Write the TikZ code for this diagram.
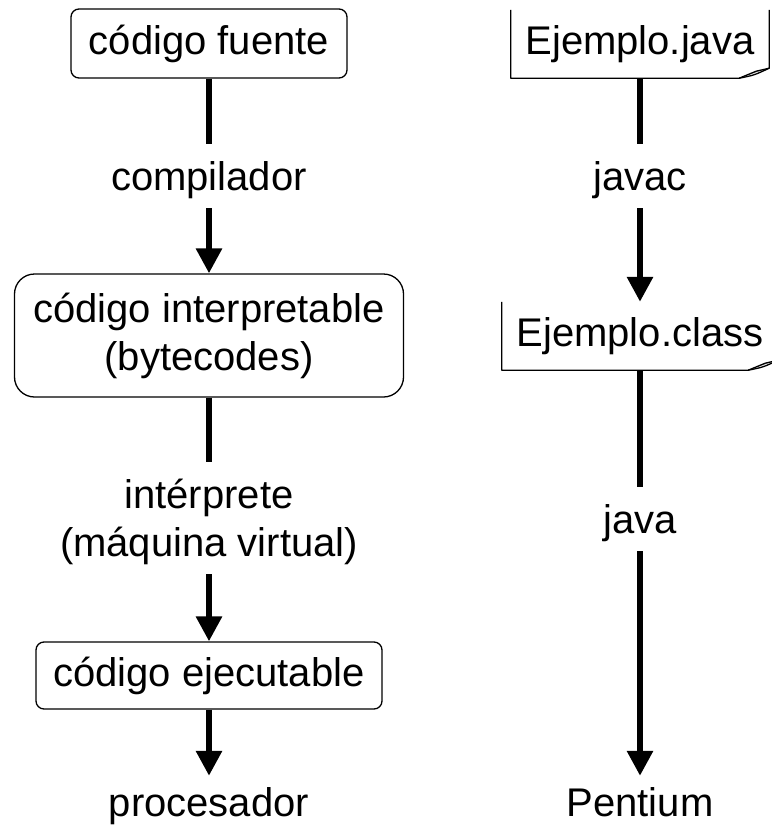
\documentclass[tikz,border=0pt]{standalone}
\usepackage{fontspec}
\setmainfont{Liberation Sans}
\usetikzlibrary{arrows.meta,calc}

\newcommand{\hoja}[1]{%
	\filldraw[borde,fill=gray!45] ($(#1.south east)+(-30,0)$) -- ($(#1.south east)+(-13,-7)$) -- ($(#1.south east)+(0,-10)$);
	\draw[borde] (#1.north west) -- (#1.south west) -- ($(#1.south east)+(-30,0)$)
		.. controls ($(#1.south east)+(-15,-3)$) .. ($(#1.south east)+(0,-10)$) -- (#1.north east);
}

\begin{document}
\begin{tikzpicture}[x=1pt,y=-1pt,font=\fontsize{40}{48}\selectfont,
	caja/.style={draw,line width=1.3pt,inner sep=0pt},
	hojita/.style={inner sep=0pt,minimum height=68pt},
	borde/.style={line width=1.3pt,line join=round},
	etiqueta/.style={inner sep=0pt,anchor=north,text height=46pt,text depth=18pt},
	final/.style={inner sep=0pt,anchor=base,text height=40pt},
	linea/.style={line width=6pt},
	flecha/.style={line width=6pt,-{Triangle[width=25pt,length=25pt]}}]
	\useasboundingbox (0,0) rectangle (771,827);
	\node[caja,rounded corners=8pt,minimum width=276pt,minimum height=69pt] (fuente) at (209,43.5) {código fuente};
	\node[etiqueta] (compilador) at (209,144) {compilador};
	\node[caja,rounded corners=20pt,minimum width=389pt,minimum height=123pt,align=center] (interpretable) at (209,335.5) {código interpretable\\(bytecodes)};
	\node[inner sep=0pt,anchor=north,align=center] (interprete) at (209,462) {\rule{0pt}{46pt}intérprete\\(máquina virtual)\rule[-18pt]{0pt}{18pt}};
	\node[caja,rounded corners=8pt,minimum width=346pt,minimum height=67pt] (ejecutable) at (209,675.5) {código ejecutable};
	\node[final] (procesador) at (209,816) {procesador};
	\draw[linea] (fuente) -- (compilador);
	\draw[flecha] (compilador) -- (interpretable);
	\draw[linea] (interpretable) -- (interprete);
	\draw[flecha] (interprete) -- (ejecutable);
	\draw[flecha] (ejecutable) -- (procesador);
	\node[hojita,minimum width=258pt] (fjava) at (640,44) {Ejemplo.java};
	\hoja{fjava}
	\node[etiqueta] (javac) at (640,144) {javac};
	\node[hojita,minimum width=276pt] (fclass) at (640,336) {Ejemplo.class};
	\hoja{fclass}
	\node[etiqueta] (java) at (640,487) {java};
	\node[final] (pentium) at (640,816) {Pentium};
	\draw[linea] (fjava) -- (javac);
	\draw[flecha] (javac) -- (fclass);
	\draw[linea] (fclass) -- (java);
	\draw[flecha] (java) -- (pentium);
\end{tikzpicture}
\end{document}
